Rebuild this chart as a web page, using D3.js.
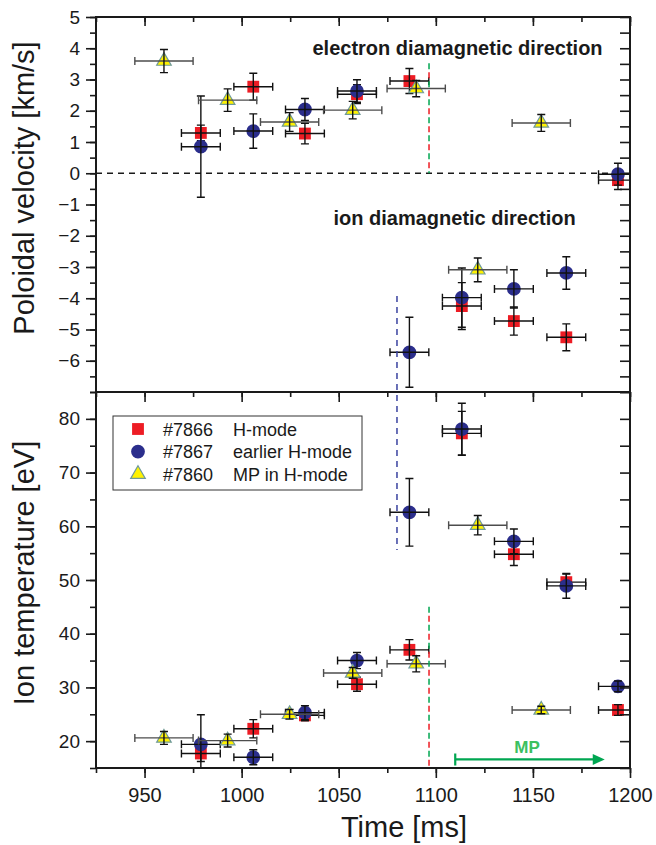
<!DOCTYPE html>
<html>
<head>
<meta charset="utf-8">
<script src="https://cdn.jsdelivr.net/npm/d3@7"></script>
<style>
    body { margin: 0; background: #fff; }
    svg text { font-family: "Liberation Sans", Arial, sans-serif; fill: #1a1a1a; }
</style>
</head>
<body>
<div id="chart"></div>
<script>
// ---- values ----
const shots = ["#7866", "#7867", "#7860"];
const modes = ["H-mode", "earlier H-mode", "MP in H-mode"];

// sample times [ms]
const time7866 = [979, 1006, 1032.6, 1059.4, 1086.4, 1113.4, 1140.2, 1167.2, 1193.8];
const time7867 = [979, 1006, 1032.6, 1059.4, 1086.4, 1113.4, 1140.2, 1167.2, 1193.8];
const time7860 = [960, 992.8, 1024.7, 1057.2, 1089.9, 1121.6, 1154.3];
const timeErr7866 = 10;
const timeErr7867 = 10;
const timeErr7860 = 15;

// poloidal velocity [km/s]
const vel7866 = [1.29, 2.77, 1.27, 2.53, 2.95, -4.25, -4.73, -5.25, -0.22];
const velErr7866 = [0.25, 0.43, 0.33, 0.3, 0.4, 0.75, 0.45, 0.43, 0.3];
const vel7867 = [0.85, 1.35, 2.04, 2.63, -5.73, -3.98, -3.70, -3.19, -0.03];
const velErr7867 = [1.62, 0.55, 0.35, 0.36, 1.12, 0.95, 0.61, 0.52, 0.35];
const vel7860 = [3.59, 2.34, 1.64, 2.02, 2.71, -3.09, 1.61];
const velErr7860 = [0.37, 0.36, 0.3, 0.28, 0.26, 0.38, 0.27];

// ion temperature [eV]
const temp7866 = [17.7, 22.3, 24.8, 30.6, 37.0, 77.3, 54.8, 49.6, 25.8];
const tempErr7866 = [1.5, 1.7, 1.0, 1.3, 1.9, 4.1, 2.1, 1.5, 1.0];
const temp7867 = [19.4, 17.0, 25.3, 35.0, 62.6, 78.1, 57.2, 48.9, 30.2];
const tempErr7867 = [5.5, 1.4, 1.3, 1.5, 6.3, 4.8, 2.3, 2.3, 1.0];
const temp7860 = [20.6, 20.1, 25.0, 32.7, 34.4, 60.2, 25.8];
const tempErr7860 = [1.2, 1.2, 0.9, 1.0, 1.5, 1.8, 0.7];

// axes
const timeTicks = [950, 1000, 1050, 1100, 1150, 1200];
const velTicks = [-6, -5, -4, -3, -2, -1, 0, 1, 2, 3, 4, 5];
const tempTicks = [20, 30, 40, 50, 60, 70, 80];

// reference markers
const transitionTime = 1096.5;   // red/green dashed line
const earlyTime = 1080;          // blue dashed line
const mpStart = 1110, mpEnd = 1187, mpLevel = 16.6;

class StackedErrorPlot {
    constructor(element) {
        this.element = element;
        this.initVis();
    }

    initVis() {
        const vis = this;

        vis.left = 96; vis.right = 630;
        vis.top = 17; vis.split = 392; vis.bottom = 768;

        vis.svg = d3.select("#" + vis.element)
            .append("svg")
            .attr("width", 656)
            .attr("height", 845);

        vis.x = d3.scaleLinear().domain([925, 1200]).range([vis.left, vis.right]);
        vis.yVel = d3.scaleLinear().domain([-7, 5]).range([vis.split, vis.top]);
        vis.yTemp = d3.scaleLinear().domain([15, 85]).range([vis.bottom, vis.split]);

        // colours per shot
        vis.fill = {"#7866": "#ed1c24", "#7867": "#2b2e8c", "#7860": "#fff200"};
        vis.symbol = {"#7866": d3.symbolSquare, "#7867": d3.symbolCircle, "#7860": d3.symbolTriangle};
        vis.size = {"#7866": 140, "#7867": 150, "#7860": 92};

        const defs = vis.svg.append("defs");
        defs.append("clipPath").attr("id", "clipTop").append("rect")
            .attr("x", vis.left).attr("y", vis.top)
            .attr("width", vis.right - vis.left).attr("height", vis.split - vis.top);
        defs.append("clipPath").attr("id", "clipBottom").append("rect")
            .attr("x", vis.left).attr("y", vis.split)
            .attr("width", vis.right - vis.left).attr("height", vis.bottom - vis.split);

        vis.updateVis();
    }

    drawAxes() {
        const vis = this;
        const noLabel = () => "";
        const style = g => {
            g.select(".domain").remove();
            g.selectAll(".tick line").attr("stroke", "#1a1a1a").attr("stroke-width", 1.6);
        };
        const minorTime = d3.range(925, 1201, 25);

        // top panel, left
        vis.svg.append("g").attr("transform", `translate(${vis.left},0)`)
            .call(d3.axisLeft(vis.yVel).tickValues(d3.range(-7, 5.01, 0.5)).tickSize(6).tickFormat(noLabel)).call(style);
        vis.svg.append("g").attr("transform", `translate(${vis.left},0)`)
            .call(d3.axisLeft(vis.yVel).tickValues(velTicks).tickSize(10).tickPadding(6).tickFormat(d3.format("d")))
            .call(style)
            .selectAll("text").style("font-size", "19px");

        // top panel, right (inward)
        vis.svg.append("g").attr("transform", `translate(${vis.right},0)`)
            .call(d3.axisRight(vis.yVel).tickValues(d3.range(-7, 5.01, 0.5)).tickSize(-10).tickFormat(noLabel)).call(style);

        // top edge (inward)
        vis.svg.append("g").attr("transform", `translate(0,${vis.top})`)
            .call(d3.axisBottom(vis.x).tickValues(minorTime).tickSize(5).tickFormat(noLabel)).call(style);
        vis.svg.append("g").attr("transform", `translate(0,${vis.top})`)
            .call(d3.axisBottom(vis.x).tickValues(timeTicks).tickSize(9).tickFormat(noLabel)).call(style);

        // divider ticks into lower panel
        vis.svg.append("g").attr("transform", `translate(0,${vis.split})`)
            .call(d3.axisBottom(vis.x).tickValues(minorTime).tickSize(5).tickFormat(noLabel)).call(style);
        vis.svg.append("g").attr("transform", `translate(0,${vis.split})`)
            .call(d3.axisBottom(vis.x).tickValues(timeTicks).tickSize(10).tickFormat(noLabel)).call(style);

        // bottom panel, left
        vis.svg.append("g").attr("transform", `translate(${vis.left},0)`)
            .call(d3.axisLeft(vis.yTemp).tickValues(d3.range(15, 86, 5)).tickSize(6).tickFormat(noLabel)).call(style);
        vis.svg.append("g").attr("transform", `translate(${vis.left},0)`)
            .call(d3.axisLeft(vis.yTemp).tickValues(tempTicks).tickSize(10).tickPadding(6).tickFormat(d3.format("d")))
            .call(style)
            .selectAll("text").style("font-size", "19px");

        // bottom panel, right (inward)
        vis.svg.append("g").attr("transform", `translate(${vis.right},0)`)
            .call(d3.axisRight(vis.yTemp).tickValues(d3.range(15, 86, 5)).tickSize(-10).tickFormat(noLabel)).call(style);

        // time axis
        vis.svg.append("g").attr("transform", `translate(0,${vis.bottom})`)
            .call(d3.axisBottom(vis.x).tickValues(minorTime).tickSize(5).tickFormat(noLabel)).call(style);
        vis.svg.append("g").attr("transform", `translate(0,${vis.bottom})`)
            .call(d3.axisBottom(vis.x).tickValues(timeTicks).tickSize(10).tickPadding(10).tickFormat(d3.format("d")))
            .call(style)
            .selectAll("text").style("font-size", "20px");

        // frame
        vis.svg.append("rect")
            .attr("x", vis.left).attr("y", vis.top)
            .attr("width", vis.right - vis.left).attr("height", vis.bottom - vis.top)
            .attr("fill", "none").attr("stroke", "#1a1a1a").attr("stroke-width", 2);
        vis.svg.append("line")
            .attr("x1", vis.left).attr("x2", vis.right)
            .attr("y1", vis.split).attr("y2", vis.split)
            .attr("stroke", "#1a1a1a").attr("stroke-width", 2);

        // axis titles
        vis.svg.append("text")
            .attr("transform", `translate(34,188) rotate(-90)`)
            .attr("text-anchor", "middle").style("font-size", "29px")
            .text("Poloidal velocity [km/s]");
        vis.svg.append("text")
            .attr("transform", `translate(34,573) rotate(-90)`)
            .attr("text-anchor", "middle").style("font-size", "29px")
            .text("Ion temperature [eV]");
        vis.svg.append("text")
            .attr("x", 404).attr("y", 837)
            .attr("text-anchor", "middle").style("font-size", "29px")
            .text("Time [ms]");
    }

    drawSeries(layer, y, shot, times, tErr, vals, vErr) {
        const vis = this;
        const pts = times.map((t, i) => ({t: t, v: vals[i], e: vErr[i], te: tErr}));
        const g = layer.append("g");
        const cap = 4;

        g.selectAll("path.mark")
            .data(pts)
            .enter()
            .append("path")
            .attr("class", "mark")
            .attr("d", d3.symbol().type(vis.symbol[shot]).size(vis.size[shot]))
            .attr("transform", d => `translate(${vis.x(d.t)},${y(d.v)})`)
            .attr("fill", vis.fill[shot])
            .attr("stroke", shot === "#7860" ? "#6f9a9a" : "none")
            .attr("stroke-width", 1.2);

        const hColor = shot === "#7860" ? "#4d4d4d" : "#111";
        const bars = g.selectAll("g.err").data(pts).enter().append("g")
            .attr("class", "err").attr("fill", "none").attr("stroke-width", 1.4);

        // horizontal (time) bar with caps
        bars.append("path")
            .attr("stroke", hColor)
            .attr("d", d => {
                const x0 = vis.x(d.t - d.te), x1 = vis.x(d.t + d.te), yy = y(d.v);
                return `M${x0},${yy}H${x1}M${x0},${yy - cap}V${yy + cap}M${x1},${yy - cap}V${yy + cap}`;
            });
        // vertical bar with caps
        bars.append("path")
            .attr("stroke", "#111")
            .attr("d", d => {
                const xx = vis.x(d.t), y0 = y(d.v - d.e), y1 = y(d.v + d.e);
                return `M${xx},${y0}V${y1}M${xx - cap},${y0}H${xx + cap}M${xx - cap},${y1}H${xx + cap}`;
            });
    }

    updateVis() {
        const vis = this;

        const top = vis.svg.append("g").attr("clip-path", "url(#clipTop)");
        const bottom = vis.svg.append("g").attr("clip-path", "url(#clipBottom)");

        // zero line
        top.append("line")
            .attr("x1", vis.left).attr("x2", vis.right)
            .attr("y1", vis.yVel(0)).attr("y2", vis.yVel(0))
            .attr("stroke", "#1a1a1a").attr("stroke-width", 1.4)
            .attr("stroke-dasharray", "6,5");

        // red / green dashed marker lines
        const dashPair = (sel, y0, y1) => {
            sel.append("line")
                .attr("x1", vis.x(transitionTime)).attr("x2", vis.x(transitionTime))
                .attr("y1", y0).attr("y2", y1)
                .attr("stroke", "#00a651").attr("stroke-width", 1.5)
                .attr("stroke-dasharray", "6,12");
            sel.append("line")
                .attr("x1", vis.x(transitionTime)).attr("x2", vis.x(transitionTime))
                .attr("y1", y0).attr("y2", y1)
                .attr("stroke", "#ed1c24").attr("stroke-width", 1.5)
                .attr("stroke-dasharray", "6,12").attr("stroke-dashoffset", -9);
        };
        dashPair(vis.svg, vis.yVel(3.52), vis.yVel(0));
        dashPair(vis.svg, vis.yTemp(45), vis.yTemp(15));

        // blue dashed line crossing both panels
        vis.svg.append("line")
            .attr("x1", vis.x(earlyTime)).attr("x2", vis.x(earlyTime))
            .attr("y1", vis.yVel(-3.93)).attr("y2", vis.yTemp(55.6))
            .attr("stroke", "#3a42a0").attr("stroke-width", 1.5)
            .attr("stroke-dasharray", "6,5");

        // data
        vis.drawSeries(top, vis.yVel, "#7866", time7866, timeErr7866, vel7866, velErr7866);
        vis.drawSeries(top, vis.yVel, "#7867", time7867, timeErr7867, vel7867, velErr7867);
        vis.drawSeries(top, vis.yVel, "#7860", time7860, timeErr7860, vel7860, velErr7860);
        vis.drawSeries(bottom, vis.yTemp, "#7866", time7866, timeErr7866, temp7866, tempErr7866);
        vis.drawSeries(bottom, vis.yTemp, "#7867", time7867, timeErr7867, temp7867, tempErr7867);
        vis.drawSeries(bottom, vis.yTemp, "#7860", time7860, timeErr7860, temp7860, tempErr7860);

        // direction labels
        vis.svg.append("text")
            .attr("x", vis.x(1036.5)).attr("y", vis.yVel(3.78))
            .style("font-size", "20px").style("font-weight", "bold")
            .text("electron diamagnetic direction");
        vis.svg.append("text")
            .attr("x", vis.x(1047.3)).attr("y", vis.yVel(-1.67))
            .style("font-size", "20px").style("font-weight", "bold")
            .text("ion diamagnetic direction");

        // MP arrow
        const ay = vis.yTemp(mpLevel), ax0 = vis.x(mpStart), ax1 = vis.x(mpEnd);
        vis.svg.append("path")
            .attr("d", `M${ax0},${ay - 6}V${ay + 6}M${ax0},${ay}H${ax1 - 10}`)
            .attr("stroke", "#00a651").attr("stroke-width", 2.2).attr("fill", "none");
        vis.svg.append("path")
            .attr("d", `M${ax1},${ay}L${ax1 - 12},${ay - 5.5}L${ax1 - 12},${ay + 5.5}Z`)
            .attr("fill", "#00a651");
        vis.svg.append("text")
            .attr("x", vis.x(1147)).attr("y", ay - 6)
            .attr("text-anchor", "middle")
            .style("font-size", "17px").style("font-weight", "bold")
            .style("fill", "#3cc060")
            .text("MP");

        vis.drawAxes();
        vis.drawLegend();
    }

    drawLegend() {
        const vis = this;
        const lg = vis.svg.append("g");
        lg.append("rect")
            .attr("x", 113).attr("y", 416).attr("width", 249).attr("height", 74)
            .attr("fill", "#fff").attr("stroke", "#333").attr("stroke-width", 1);

        const rows = lg.selectAll("g.row")
            .data(shots)
            .enter()
            .append("g")
            .attr("class", "row")
            .attr("transform", (d, i) => `translate(0,${429 + i * 22.6})`);

        rows.append("path")
            .attr("d", d => d3.symbol().type(vis.symbol[d]).size(vis.size[d])())
            .attr("transform", "translate(138,0)")
            .attr("fill", d => vis.fill[d])
            .attr("stroke", d => d === "#7860" ? "#6f9a9a" : "none")
            .attr("stroke-width", 1.2);
        rows.append("text")
            .attr("x", 163).attr("y", 6.5)
            .style("font-size", "18px")
            .text(d => d);
        rows.append("text")
            .attr("x", 233).attr("y", 6.5)
            .style("font-size", "18px")
            .text((d, i) => modes[i]);
    }
}

new StackedErrorPlot("chart");
</script>
</body>
</html>
